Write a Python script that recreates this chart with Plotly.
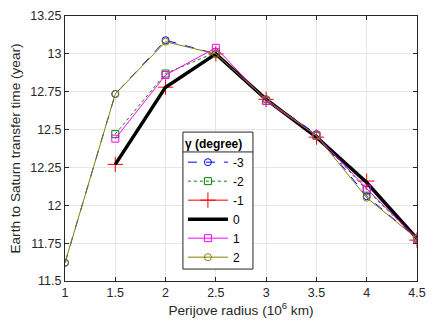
import plotly.graph_objects as go

# Perijove radius (10^6 km)
radius = [1, 1.5, 2, 2.5, 3, 3.5, 4, 4.5]

# Transfer time (year) for each gamma (degree)
gamma_labels = ["-3", "-2", "-1", "0", "1", "2"]
t_m3 = [11.62, 12.735, 13.09, 13.0, 12.70, 12.47, 12.06, 11.78]
t_m2 = [None, 12.47, 12.87, 13.01, 12.69, 12.46, 12.10, 11.78]
t_m1 = [None, 12.27, 12.78, 13.0, 12.70, 12.45, 12.16, 11.77]
t_0 = [None, 12.27, 12.78, 13.0, 12.70, 12.45, 12.15, 11.78]
t_p1 = [None, 12.44, 12.86, 13.04, 12.69, 12.46, 12.11, 11.78]
t_p2 = [11.62, 12.735, 13.08, 13.0, 12.70, 12.46, 12.05, 11.78]

x_ticks = [1, 1.5, 2, 2.5, 3, 3.5, 4, 4.5]
y_ticks = [11.5, 11.75, 12, 12.25, 12.5, 12.75, 13, 13.25]

fig = go.Figure()

# -3: blue dashed, open circles
fig.add_trace(go.Scatter(x=radius, y=t_m3, name=gamma_labels[0], mode="lines+markers",
                         line=dict(color="#0000ff", width=1, dash="dash"),
                         marker=dict(symbol="circle-open", size=7, color="#0000ff", line=dict(width=1))))
# -2: dark green dotted, open squares
fig.add_trace(go.Scatter(x=radius, y=t_m2, name=gamma_labels[1], mode="lines+markers",
                         line=dict(color="#008000", width=1, dash="dot"),
                         marker=dict(symbol="square-open", size=7, color="#008000", line=dict(width=1))))
# -1: red solid, plus markers
fig.add_trace(go.Scatter(x=radius, y=t_m1, name=gamma_labels[2], mode="lines+markers",
                         line=dict(color="#ff0000", width=1),
                         marker=dict(symbol="cross-thin-open", size=11, color="#ff0000", line=dict(width=1, color="#ff0000"))))
# 0: thick black
fig.add_trace(go.Scatter(x=radius, y=t_0, name=gamma_labels[3], mode="lines",
                         line=dict(color="#000000", width=3.5)))
# 1: magenta, open squares
fig.add_trace(go.Scatter(x=radius, y=t_p1, name=gamma_labels[4], mode="lines+markers",
                         line=dict(color="#ff00ff", width=1),
                         marker=dict(symbol="square-open", size=7, color="#ff00ff", line=dict(width=1))))
# 2: olive, open circles
fig.add_trace(go.Scatter(x=radius, y=t_p2, name=gamma_labels[5], mode="lines+markers",
                         line=dict(color="#808000", width=1),
                         marker=dict(symbol="circle-open", size=7, color="#808000", line=dict(width=1))))

axis_style = dict(showgrid=True, gridcolor="#e6e6e6", gridwidth=1, zeroline=False,
                  showline=True, linecolor="#262626", linewidth=1, mirror="ticks",
                  ticks="inside", ticklen=4, tickcolor="#262626", automargin=False,
                  tickfont=dict(size=12.5, color="#262626"))

# page body has an 8px margin, so the figure is shrunk and shifted to match
fig.update_layout(
    width=428, height=319,
    margin=dict(l=57, r=19, t=8, b=46),
    paper_bgcolor="white", plot_bgcolor="white",
    font=dict(family="Liberation Sans, Arial, sans-serif", color="#262626"),
    xaxis=dict(range=[1, 4.5], tickvals=x_ticks, ticktext=[f"{v:g}" for v in x_ticks],
               title=dict(text="Perijove radius (10<sup>6</sup> km)", font=dict(size=13.6), standoff=4),
               **axis_style),
    yaxis=dict(range=[11.5, 13.25], tickvals=y_ticks, ticktext=[f"{v:g}" for v in y_ticks],
               title=dict(text="Earth to Saturn transfer time (year)", font=dict(size=13.6), standoff=9),
               **axis_style),
    legend=dict(x=0.335, y=0.562, xanchor="left", yanchor="top",
                bgcolor="rgba(0,0,0,0)", borderwidth=0,
                font=dict(size=12, color="#000000"),
                title=dict(text="<b>γ (degree)</b>", side="top", font=dict(size=12, color="#000000")),
                tracegroupgap=0, itemwidth=40),
    showlegend=True,
)

# legend box and the separator under its title
fig.add_shape(type="rect", xref="paper", yref="paper", x0=0.335, x1=0.534, y0=0.045, y1=0.562,
              fillcolor="white", line=dict(color="#262626", width=1), layer="above")
fig.add_shape(type="line", xref="paper", yref="paper", x0=0.335, x1=0.534, y0=0.487, y1=0.487,
              line=dict(color="#262626", width=1), layer="above")

fig.write_html("out.html")
